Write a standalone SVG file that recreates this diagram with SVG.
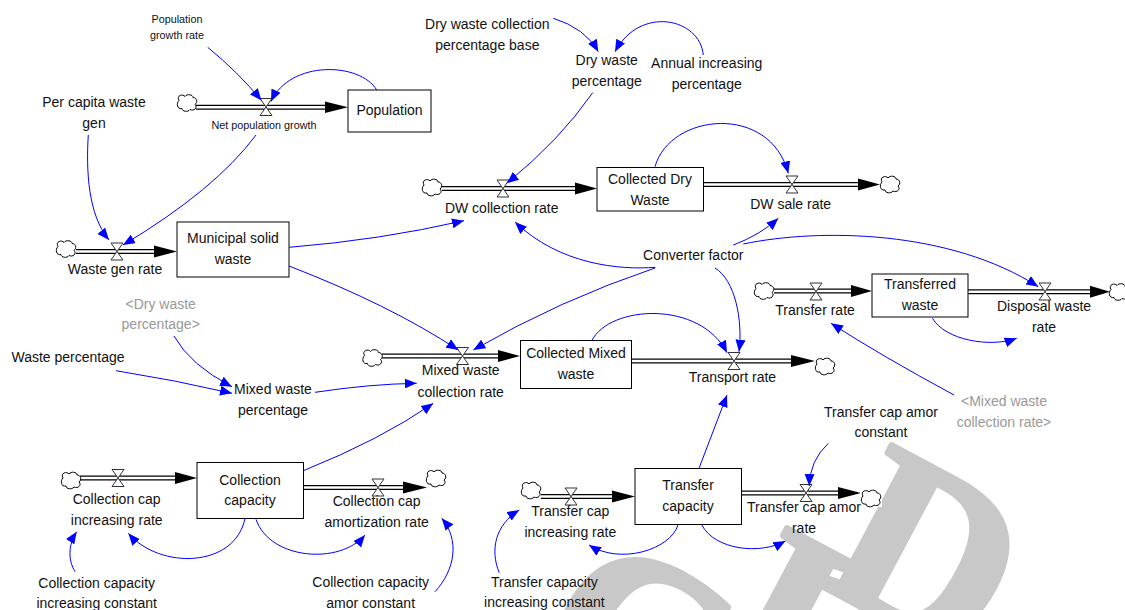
<svg xmlns="http://www.w3.org/2000/svg" width="1125" height="610" viewBox="0 0 1125 610">
<style>
.t{font-family:"Liberation Sans",Arial,sans-serif;font-size:14px;text-anchor:middle;fill:#111}
.s{font-size:10.8px}
.g{fill:#999}
.lk{fill:none;stroke:#00f;stroke-width:1;marker-end:url(#a)}
.po{fill:none;stroke:#000;stroke-width:5}
.pi{fill:none;stroke:#fff;stroke-width:2.4}
.ah{fill:#000}
.box{fill:#fff;stroke:#000;stroke-width:1}
.wm{font-family:"Liberation Serif","Times New Roman",serif;font-weight:bold;font-size:240px;fill:#c8c8c8;stroke:#c8c8c8;stroke-width:6;stroke-linejoin:round}
</style>
<defs>
<marker id="a" markerWidth="12" markerHeight="10" refX="12" refY="5" orient="auto" markerUnits="userSpaceOnUse"><path d="M0,0 L12,5 L0,10 Z" fill="#00f"/></marker>
<symbol id="cloud" overflow="visible"><path d="M-8,-2 C-11,-7 -4,-9 -2,-6 C0,-9 6,-8 6,-5 C10,-5 11,0 8,2 C11,5 7,9 3,7 C1,10 -5,9 -5,6 C-10,7 -11,1 -8,-2 Z" fill="#fff" stroke="#000" stroke-width="1"/></symbol>
<symbol id="valve" overflow="visible"><path d="M-6,-8.5 L6,-8.5 L-6,8.5 L6,8.5 Z" fill="#fff" stroke="#333" stroke-width="1"/></symbol>
</defs>
<rect width="1125" height="610" fill="#fff"/>
<g id="watermark">
<text class="wm" transform="translate(523,669) rotate(28)">C</text>
<text class="wm" transform="translate(706,663) rotate(28)">I</text>
<text class="wm" transform="translate(814,582) rotate(28)">D</text>
</g>

<g id="flow-net-population-growth">
<path class="po" d="M196,107.3 H326"/><path class="pi" d="M196,107.3 H326"/>
<polygon class="ah" points="325,101.5 348,107.3 325,113"/>
<use href="#cloud" x="187" y="102.5"/>
<use href="#valve" x="266" y="107"/>
<text class="t s" x="264" y="128.5">Net population growth</text>
</g>
<g id="flow-waste-gen-rate">
<path class="po" d="M76,251.5 H155"/><path class="pi" d="M76,251.5 H155"/>
<polygon class="ah" points="154,245.5 177,251.5 154,257.5"/>
<use href="#cloud" x="66" y="248.5"/>
<use href="#valve" x="117" y="251.5"/>
<text class="t" x="115" y="274.3">Waste gen rate</text>
</g>
<g id="flow-dw-collection-rate">
<path class="po" d="M442,188.5 H576"/><path class="pi" d="M442,188.5 H576"/>
<polygon class="ah" points="575,182.5 597,188.5 575,194.5"/>
<use href="#cloud" x="432" y="187"/>
<use href="#valve" x="503" y="188.5"/>
<text class="t" x="501.7" y="212.5">DW collection rate</text>
</g>
<g id="flow-dw-sale-rate">
<path class="po" d="M703,184.5 H859"/><path class="pi" d="M703,184.5 H859"/>
<polygon class="ah" points="858,178.5 880,184.5 858,190.5"/>
<use href="#cloud" x="890" y="184"/>
<use href="#valve" x="792" y="184.5"/>
<text class="t" x="790.7" y="209">DW sale rate</text>
</g>
<g id="flow-mixed-waste-collection-rate">
<path class="po" d="M382,356 H499"/><path class="pi" d="M382,356 H499"/>
<polygon class="ah" points="498,350 520,356 498,362"/>
<use href="#cloud" x="372.5" y="357.5"/>
<use href="#valve" x="462.5" y="356"/>
<text class="t" x="460.7" y="375">Mixed waste<tspan x="460.7" dy="21.5">collection rate</tspan></text>
</g>
<g id="flow-transport-rate">
<path class="po" d="M631,361 H792"/><path class="pi" d="M631,361 H792"/>
<polygon class="ah" points="791,355 815,361 791,367"/>
<use href="#cloud" x="825" y="366"/>
<use href="#valve" x="734" y="361"/>
<text class="t" x="732.4" y="381.7">Transport rate</text>
</g>
<g id="flow-transfer-rate">
<path class="po" d="M774,291 H852"/><path class="pi" d="M774,291 H852"/>
<polygon class="ah" points="851,285 872,291 851,297"/>
<use href="#cloud" x="764" y="290.5"/>
<use href="#valve" x="816" y="291.5"/>
<text class="t" x="815" y="315">Transfer rate</text>
</g>
<g id="flow-disposal-waste-rate">
<path class="po" d="M968,291.7 H1091"/><path class="pi" d="M968,291.7 H1091"/>
<polygon class="ah" points="1090,285.7 1110,291.7 1090,297.7"/>
<use href="#cloud" x="1119" y="291.5"/>
<use href="#valve" x="1045" y="291.5"/>
<text class="t" x="1044" y="311">Disposal waste<tspan x="1044" dy="21">rate</tspan></text>
</g>
<g id="flow-collection-cap-increasing-rate">
<path class="po" d="M80,478 H176"/><path class="pi" d="M80,478 H176"/>
<polygon class="ah" points="175,472 197,478 175,484"/>
<use href="#cloud" x="71" y="480"/>
<use href="#valve" x="118" y="478"/>
<text class="t" x="116.7" y="504">Collection cap<tspan x="116.7" dy="20.5">increasing rate</tspan></text>
</g>
<g id="flow-collection-cap-amortization-rate">
<path class="po" d="M303,487.5 H404"/><path class="pi" d="M303,487.5 H404"/>
<polygon class="ah" points="403,481.5 427,487.5 403,493.5"/>
<use href="#cloud" x="436" y="478"/>
<use href="#valve" x="378" y="487.5"/>
<text class="t" x="376.7" y="506.3">Collection cap<tspan x="376.7" dy="21">amortization rate</tspan></text>
</g>
<g id="flow-transfer-cap-increasing-rate">
<path class="po" d="M541,496.5 H613"/><path class="pi" d="M541,496.5 H613"/>
<polygon class="ah" points="612,490.5 635,496.5 612,502.5"/>
<use href="#cloud" x="531" y="490"/>
<use href="#valve" x="571" y="496.5"/>
<text class="t" x="570.3" y="515.7">Transfer cap<tspan x="570.3" dy="21">increasing rate</tspan></text>
</g>
<g id="flow-transfer-cap-amor-rate">
<path class="po" d="M741,493 H839"/><path class="pi" d="M741,493 H839"/>
<polygon class="ah" points="838,487 861,493 838,499"/>
<rect x="860" y="489" width="22" height="18" fill="#fff"/>
<use href="#cloud" x="871" y="498"/>
<use href="#valve" x="806" y="493"/>
<text class="t" x="804" y="511.7">Transfer cap amor<tspan x="804" dy="21.5">rate</tspan></text>
</g>

<g id="stock-population"><rect class="box" x="348" y="90" width="83" height="42"/><text class="t" x="389.5" y="115">Population</text></g>
<g id="stock-collected-dry-waste"><rect class="box" x="597" y="167.5" width="106.5" height="43.5"/><text class="t" x="650" y="184">Collected Dry<tspan x="650" dy="20.5">Waste</tspan></text></g>
<g id="stock-municipal-solid-waste"><rect class="box" x="177" y="222" width="112" height="55"/><text class="t" x="233" y="243.3">Municipal solid<tspan x="233" dy="21">waste</tspan></text></g>
<g id="stock-transferred-waste"><rect class="box" x="872" y="274" width="96" height="43"/><text class="t" x="920" y="289">Transferred<tspan x="920" dy="21">waste</tspan></text></g>
<g id="stock-collected-mixed-waste"><rect class="box" x="520.5" y="340.5" width="111" height="48"/><text class="t" x="576" y="358.3">Collected Mixed<tspan x="576" dy="20.7">waste</tspan></text></g>
<g id="stock-collection-capacity"><rect class="box" x="197" y="462.5" width="106.5" height="56"/><text class="t" x="250" y="485">Collection<tspan x="250" dy="20.3">capacity</tspan></text></g>
<g id="stock-transfer-capacity"><rect class="box" x="635" y="468.5" width="106.5" height="56"/><text class="t" x="688" y="490.3">Transfer<tspan x="688" dy="20.7">capacity</tspan></text></g>

<g id="var-population-growth-rate"><text class="t s" x="177" y="23">Population<tspan x="177" dy="16">growth rate</tspan></text></g>
<g id="var-per-capita-waste-gen"><text class="t" x="94" y="107">Per capita waste<tspan x="94" dy="21">gen</tspan></text></g>
<g id="var-dry-waste-collection-percentage-base"><text class="t" x="487.3" y="29.3">Dry waste collection<tspan x="487.3" dy="20.7">percentage base</tspan></text></g>
<g id="var-dry-waste-percentage"><text class="t" x="606.7" y="65">Dry waste<tspan x="606.7" dy="21">percentage</tspan></text></g>
<g id="var-annual-increasing-percentage"><text class="t" x="706.7" y="68.3">Annual increasing<tspan x="706.7" dy="21">percentage</tspan></text></g>
<g id="var-converter-factor"><text class="t" x="693.3" y="260">Converter factor</text></g>
<g id="var-dry-waste-percentage-shadow"><text class="t g" x="160.7" y="309.3">&lt;Dry waste<tspan x="160.7" dy="20">percentage&gt;</tspan></text></g>
<g id="var-waste-percentage"><text class="t" x="68" y="361.7">Waste percentage</text></g>
<g id="var-mixed-waste-percentage"><text class="t" x="273" y="393.5">Mixed waste<tspan x="273" dy="21">percentage</tspan></text></g>
<g id="var-mixed-waste-collection-rate-shadow"><text class="t g" x="1004" y="405.7">&lt;Mixed waste<tspan x="1004" dy="21.5">collection rate&gt;</tspan></text></g>
<g id="var-transfer-cap-amor-constant"><text class="t" x="881" y="416.7">Transfer cap amor<tspan x="881" dy="20.6">constant</tspan></text></g>
<g id="var-collection-capacity-increasing-constant"><text class="t" x="96.7" y="587.7">Collection capacity<tspan x="96.7" dy="20.6">increasing constant</tspan></text></g>
<g id="var-collection-capacity-amor-constant"><text class="t" x="370.7" y="586.7">Collection capacity<tspan x="370.7" dy="21">amor constant</tspan></text></g>
<g id="var-transfer-capacity-increasing-constant"><text class="t" x="544.4" y="586.7">Transfer capacity<tspan x="544.4" dy="20.6">increasing constant</tspan></text></g>

<g id="connectors">
<path class="lk" d="M207.7,47.3 Q238,72 261.5,100.5"/>
<path class="lk" d="M376.7,90 C360,62 290,60 271,101.5"/>
<path class="lk" d="M88.3,135 C86,170 88,215 109,240"/>
<path class="lk" d="M256,135 Q215,190 123,245"/>
<path class="lk" d="M553.3,18.3 Q585,28 598.3,51.7"/>
<path class="lk" d="M703.3,55 C700,18 640,5 615,51.7"/>
<path class="lk" d="M592.7,92.7 Q560,140 506.7,183.3"/>
<path class="lk" d="M655,166.7 C670,113 770,103 788.3,173.3"/>
<path class="lk" d="M289.3,247.3 Q380,240 464,220.7"/>
<path class="lk" d="M289,266 Q390,305 458.3,350"/>
<path class="lk" d="M655.4,267.3 C620,270 560,265 515,222"/>
<path class="lk" d="M733.3,245 Q760,235 778.3,218.3"/>
<path class="lk" d="M743.3,244 C820,228 950,230 1038.3,286.7"/>
<path class="lk" d="M655,268 Q560,300 473.3,350"/>
<path class="lk" d="M715,268 C735,280 743,320 739,351.7"/>
<path class="lk" d="M591.7,340.7 C610,305 700,300 727,352.7"/>
<path class="lk" d="M932.5,318.3 C945,340 990,348 1016.7,338.3"/>
<path class="lk" d="M954,395 Q880,355 831,323.3"/>
<path class="lk" d="M315,392.3 Q370,384 416.7,383.3"/>
<path class="lk" d="M116,370.7 Q175,380 232,393.3"/>
<path class="lk" d="M174,336 Q190,365 232,386.7"/>
<path class="lk" d="M303.3,470.7 Q380,440 433.3,403.3"/>
<path class="lk" d="M245,518.3 C235,568 160,570 128.3,533.3"/>
<path class="lk" d="M256,519.3 C270,560 340,565 365,535"/>
<path class="lk" d="M75,571.7 C68,560 68,545 76.7,531.7"/>
<path class="lk" d="M435,591.7 C455,570 460,540 441.7,518.3"/>
<path class="lk" d="M699,468.3 L727,395"/>
<path class="lk" d="M828.4,443.3 Q810,460 809.2,486"/>
<path class="lk" d="M678,525 C670,550 620,565 589,545"/>
<path class="lk" d="M701.8,525 C715,550 760,555 785.4,541"/>
<path class="lk" d="M499.2,572.7 C490,550 495,525 519.3,510"/>
</g>
</svg>
